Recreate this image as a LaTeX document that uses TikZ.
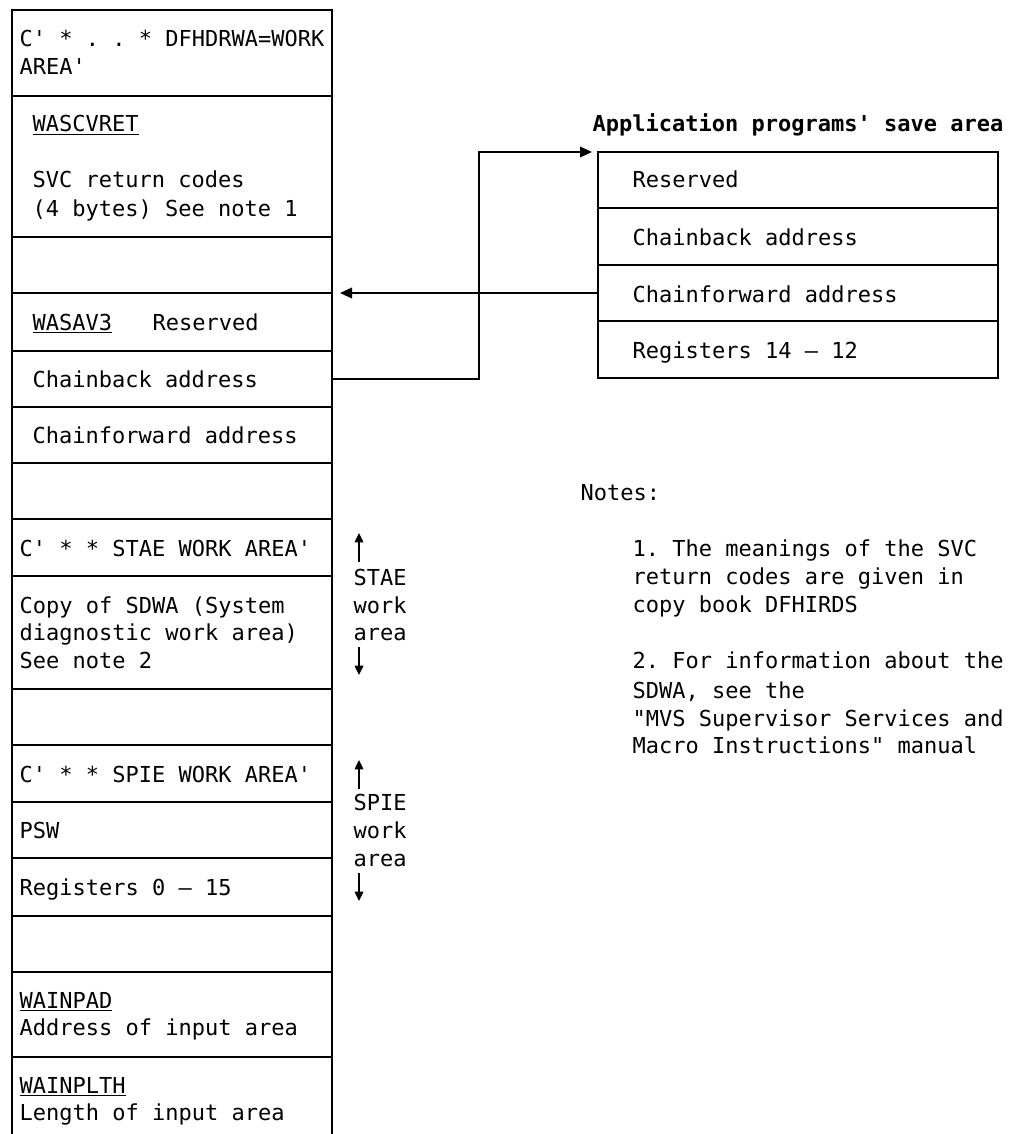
\documentclass[tikz,border=0pt]{standalone}
\usepackage{fontspec}
\setmonofont{DejaVu Sans Mono}
\usetikzlibrary{arrows.meta}
\begin{document}
\frenchspacing
\begin{tikzpicture}[x=0.75pt,y=-0.75pt,
  line width=1.1pt,
  txt/.style={anchor=base west,inner sep=0pt,font=\ttfamily\fontsize{16.5}{21}\selectfont},
  ttl/.style={anchor=base west,inner sep=0pt,font=\ttfamily\fontsize{16.5}{21}\selectfont\bfseries},
  cell/.style={draw,anchor=north west,inner sep=0pt,outer sep=0pt,minimum width=240pt},
  rcell/.style={draw,anchor=north west,inner sep=0pt,outer sep=0pt,minimum width=300pt},
  arr/.style={-{Triangle[length=9pt,width=8pt]}},
  sarr/.style={-{Triangle[length=7pt,width=6.5pt]},line width=1pt}
]
\useasboundingbox (0,0) rectangle (1008,1134);
% left column rows
\node[cell,minimum height=64.5pt]  (r1)  at (12,10) {};
\node[cell,minimum height=105.75pt](r2)  at (12,96) {};
\node[cell,minimum height=42pt]    (r3)  at (12,237) {};
\node[cell,minimum height=43.5pt]  (r4)  at (12,293) {};
\node[cell,minimum height=42pt]    (r5)  at (12,351) {};
\node[cell,minimum height=42pt]    (r6)  at (12,407) {};
\node[cell,minimum height=42pt]    (r7)  at (12,463) {};
\node[cell,minimum height=42.75pt] (r8)  at (12,519) {};
\node[cell,minimum height=84.75pt] (r9)  at (12,576) {};
\node[cell,minimum height=42pt]    (r10) at (12,689) {};
\node[cell,minimum height=42.75pt] (r11) at (12,745) {};
\node[cell,minimum height=42pt]    (r12) at (12,802) {};
\node[cell,minimum height=43.5pt]  (r13) at (12,858) {};
\node[cell,minimum height=42pt]    (r14) at (12,916) {};
\node[cell,minimum height=63.75pt] (r15) at (12,972) {};
\coordinate (bl) at (12,1134);
\coordinate (br) at (332,1134);
\draw (r15.south west) -- (bl);
\draw (r15.south east) -- (br);
% left column texts
\node[txt] (t1a) at (19,47) {C' * . . * DFHDRWA=WORK};
\node[txt] (t1b) at (19,75) {AREA'};
\node[txt] (t2a) at (32,132) {\underline{WASCVRET}};
\node[txt] (t2b) at (32,188) {SVC return codes};
\node[txt] (t2c) at (32,217) {(4 bytes) See note 1};
\node[txt] (t4a) at (32,330) {\underline{WASAV3}};
\node[txt] (t4b) at (152,330) {Reserved};
\node[txt] (t5) at (32,387) {Chainback address};
\node[txt] (t6) at (32,443) {Chainforward address};
\node[txt] (t8) at (19,556) {C' * * STAE WORK AREA'};
\node[txt] (t9a) at (19,613) {Copy of SDWA (System};
\node[txt] (t9b) at (19,640) {diagnostic work area)};
\node[txt] (t9c) at (19,668) {See note 2};
\node[txt] (t11) at (19,782) {C' * * SPIE WORK AREA'};
\node[txt] (t12) at (19,838) {PSW};
\node[txt] (t13) at (19,895) {Registers 0 — 15};
\node[txt] (t15a) at (19,1008) {\underline{WAINPAD}};
\node[txt] (t15b) at (19,1035) {Address of input area};
\node[txt] (t16a) at (19,1093) {\underline{WAINPLTH}};
\node[txt] (t16b) at (19,1120) {Length of input area};
% STAE / SPIE annotations
\coordinate (stA1) at (359,562);
\coordinate (stA2) at (359,533);
\draw[sarr] (stA1) -- (stA2);
\node[txt] (st1) at (353,585) {STAE};
\node[txt] (st2) at (353,613) {work};
\node[txt] (st3) at (353,640) {area};
\coordinate (stB1) at (359,647);
\coordinate (stB2) at (359,675);
\draw[sarr] (stB1) -- (stB2);
\coordinate (spA1) at (359,789);
\coordinate (spA2) at (359,760);
\draw[sarr] (spA1) -- (spA2);
\node[txt] (sp1) at (353,810) {SPIE};
\node[txt] (sp2) at (353,838) {work};
\node[txt] (sp3) at (353,866) {area};
\coordinate (spB1) at (359,873);
\coordinate (spB2) at (359,901);
\draw[sarr] (spB1) -- (spB2);
% right box
\node[ttl] (title) at (592,132) {Application programs' save area};
\node[rcell,minimum height=42pt]    (s1) at (598,152) {};
\node[rcell,minimum height=42.75pt] (s2) at (598,208) {};
\node[rcell,minimum height=42pt]    (s3) at (598,265) {};
\node[rcell,minimum height=42.75pt] (s4) at (598,321) {};
\node[txt] (u1) at (632,188) {Reserved};
\node[txt] (u2) at (632,245) {Chainback address};
\node[txt] (u3) at (632,302) {Chainforward address};
\node[txt] (u4) at (632,358) {Registers 14 — 12};
% connectors
\coordinate (bend) at (479,0);
\draw[arr,shorten >=4.5pt] (r5.east) -| (bend |- s1.north west) -- (s1.north west);
\draw[arr,shorten >=6pt] (s3.west) -- (r4.north east);
% notes
\node[txt] (n0) at (580,500) {Notes:};
\node[txt] (n1a) at (632,556) {1. The meanings of the SVC};
\node[txt] (n1b) at (632,584) {return codes are given in};
\node[txt] (n1c) at (632,612) {copy book DFHIRDS};
\node[txt] (n2a) at (632,668) {2. For information about the};
\node[txt] (n2b) at (632,698) {SDWA, see the};
\node[txt] (n2c) at (632,726) {"MVS Supervisor Services and};
\node[txt] (n2d) at (632,753) {Macro Instructions" manual};
\end{tikzpicture}
\end{document}
